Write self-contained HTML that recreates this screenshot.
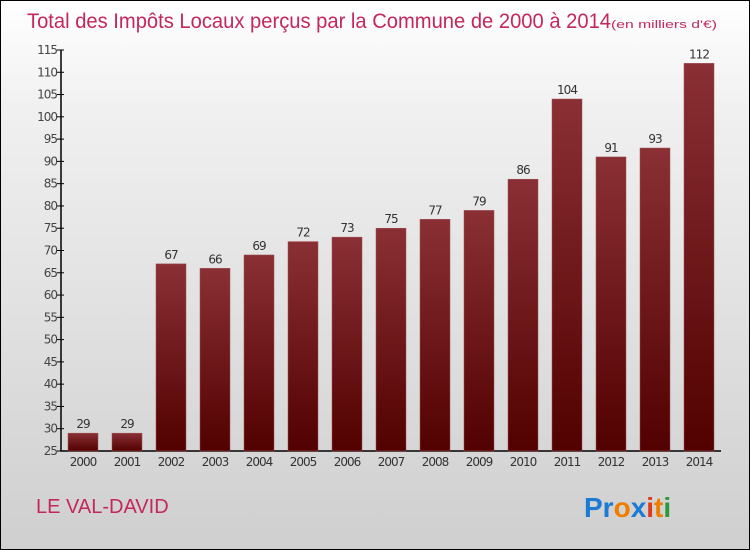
<!DOCTYPE html>
<html><head><meta charset="utf-8"><style>
body{margin:0}
#c{width:748px;height:548px;border:1px solid #000;background:linear-gradient(#fff,#f0f0f0 20%,#cfcfcf);position:relative;font-family:"DejaVu Sans","Liberation Sans",sans-serif}
</style></head><body>
<div id="c">
<svg width="748" height="548" style="position:absolute;left:0;top:0" id="svg">
<defs><linearGradient id="bg" x1="0" y1="0" x2="0" y2="1"><stop offset="0" stop-color="#8a3035"/><stop offset="1" stop-color="#520000"/></linearGradient></defs>
<text x="26" y="27" font-size="21" fill="#c4285a" font-family="Liberation Sans, sans-serif"><tspan textLength="584" lengthAdjust="spacingAndGlyphs">Total des Impôts Locaux perçus par la Commune de 2000 à 2014</tspan><tspan font-size="11" textLength="106" lengthAdjust="spacingAndGlyphs">(en milliers d'€)</tspan></text>
<g id="plot"></g>
<text x="35" y="512" font-size="20" fill="#c4285a" font-family="Liberation Sans, sans-serif">LE VAL-DAVID</text>
<text x="583" y="516" font-size="28" font-weight="bold" font-family="Liberation Sans, sans-serif"><tspan fill="#1a7ad4">Pr</tspan><tspan fill="#f07d00">o</tspan><tspan fill="#1a7ad4">x</tspan><tspan fill="#e03a1e">i</tspan><tspan fill="#f07d00">t</tspan><tspan fill="#2a9a3a">i</tspan></text>
</svg>
</div>
<script>
const years=["2000","2001","2002","2003","2004","2005","2006","2007","2008","2009","2010","2011","2012","2013","2014"];
const values=[29,29,67,66,69,72,73,75,77,79,86,104,91,93,112];
const ticks=[25,30,35,40,45,50,55,60,65,70,75,80,85,90,95,100,105,110,115];
const NS="http://www.w3.org/2000/svg";
const g=document.getElementById('plot');
const X0=60,X1=720,Y0=450,Y1=49,VMIN=25,VMAX=115;
const y=v=>Y0-(v-VMIN)/(VMAX-VMIN)*(Y0-Y1);
const bw=(X1-X0)/years.length;
const x=i=>X0+i*bw;
function mk(t,a){const e=document.createElementNS(NS,t);for(const k in a)e.setAttribute(k,a[k]);g.appendChild(e);return e;}
let ax=mk('path',{d:`M${X0} ${Y1}V${Y0}H${X1}`,stroke:'#000',fill:'none','stroke-width':1.5});


ticks.forEach(t=>{
 let l=mk('line',{x1:X0-4,x2:X0+3,y1:y(t),y2:y(t),stroke:'#000'});
 
 
 let tx=mk('text',{x:X0-4,y:y(t)+4,'text-anchor':'end','font-size':12,fill:'#444','letter-spacing':'-1'});
 tx.textContent=t;
 
 
});
values.forEach((v,i)=>{
 let r=mk('rect',{x:x(i)+7,y:y(v),width:30,height:Y0-y(v),fill:'url(#bg)',stroke:'#a05055','stroke-width':0.5});
 
 
 let vt=mk('text',{x:x(i)+bw/2,y:y(v)-5,'text-anchor':'middle','font-size':12,fill:'#333','letter-spacing':'-1'});
 vt.textContent=v;
 
 
 let xt=mk('text',{x:x(i)+bw/2,y:Y0+15,'text-anchor':'middle','font-size':12,fill:'#333','letter-spacing':'-1'});
 xt.textContent=years[i];
 
 
});
</script>
</body></html>
